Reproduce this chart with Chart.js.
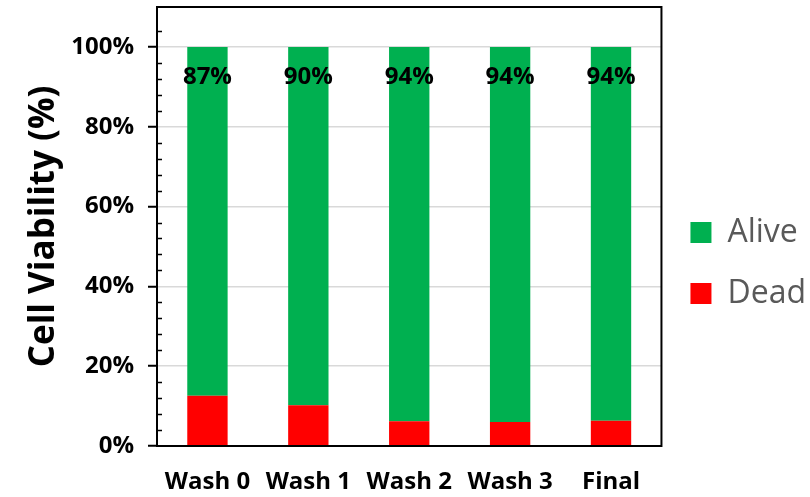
<!DOCTYPE html>
<html>
<head>
<meta charset="utf-8">
<script src="https://cdn.jsdelivr.net/npm/chart.js@4"></script>
<style>
  html, body { margin: 0; padding: 0; background: #fff; }
  #wrap { width: 810px; height: 497px; }
</style>
</head>
<body>
<div id="wrap"><canvas id="viabilityChart"></canvas></div>
<script>
// Chart data
const categories = ['Wash 0', 'Wash 1', 'Wash 2', 'Wash 3', 'Final'];
const deadValues = [12.6, 10.2, 6.2, 6.0, 6.3];
const aliveValues = [87.4, 89.8, 93.8, 94.0, 93.7];
const yMajorTicks = [0, 20, 40, 60, 80, 100];

const FONT = '"Open Sans", sans-serif';

// Frame, minor ticks and percentage labels
const decorPlugin = {
    id: 'decor',
    afterDatasetsDraw(chart) {
        const ctx = chart.ctx;
        // Percentage labels on the alive bars
        const meta = chart.getDatasetMeta(1);
        ctx.save();
        ctx.fillStyle = '#000';
        ctx.font = 'bold 24px ' + FONT;
        ctx.textAlign = 'center';
        ctx.textBaseline = 'middle';
        meta.data.forEach((bar, i) => {
            ctx.fillText(Math.round(aliveValues[i]) + '%', bar.x, bar.y + 30);
        });
        ctx.restore();
    },
    afterDraw(chart) {
        const ctx = chart.ctx;
        const area = chart.chartArea;
        const y = chart.scales.y;
        ctx.save();
        // plot frame
        ctx.strokeStyle = '#000';
        ctx.lineWidth = 2;
        ctx.strokeRect(area.left, area.top, area.right - area.left, area.bottom - area.top);
        // inward minor ticks
        ctx.lineWidth = 1.5;
        ctx.beginPath();
        y.ticks.forEach(t => {
            if (t.value % 20 !== 0 && t.value < 110) {
                const py = Math.round(y.getPixelForValue(t.value)) + 0.5;
                ctx.moveTo(area.left, py);
                ctx.lineTo(area.left + 5, py);
            }
        });
        ctx.stroke();
        ctx.restore();
    }
};

const ctx = document.getElementById('viabilityChart').getContext('2d');
new Chart(ctx, {
    type: 'bar',
    data: {
        labels: categories,
        datasets: [
            { label: 'Dead', data: deadValues, backgroundColor: '#ff0000', barPercentage: 0.4, categoryPercentage: 1 },
            { label: 'Alive', data: aliveValues, backgroundColor: '#00b050', barPercentage: 0.4, categoryPercentage: 1 }
        ]
    },
    options: {
        responsive: true,
        maintainAspectRatio: false,
        animation: false,
        layout: { padding: { top: 7, right: -6, left: 0, bottom: 0 } },
        plugins: {
            tooltip: { enabled: false },
            legend: {
                position: 'right',
                reverse: true,
                title: { display: true, text: '', padding: { top: 0, bottom: 10 }, font: { size: 10 } },
                labels: {
                    boxWidth: 21,
                    boxHeight: 21,
                    padding: 29,
                    color: '#595959',
                    font: { size: 32, family: FONT }
                }
            }
        },
        scales: {
            x: {
                stacked: true,
                grid: { display: false, drawTicks: false },
                border: { color: '#000', width: 2 },
                ticks: {
                    color: '#000',
                    padding: 22,
                    font: { size: 24, weight: 'bold', family: FONT }
                },
                afterFit: scale => { scale.height = 51; }
            },
            y: {
                stacked: true,
                min: 0,
                max: 110,
                border: { color: '#000', width: 2 },
                grid: {
                    color: c => (c.tick && c.tick.value % 20 === 0 && c.tick.value > 0 && c.tick.value <= 100) ? '#d9d9d9' : 'rgba(0,0,0,0)',
                    lineWidth: 1.5,
                    tickLength: 9,
                    tickColor: c => (c.tick && yMajorTicks.includes(c.tick.value)) ? '#000' : 'rgba(0,0,0,0)',
                    tickWidth: 2
                },
                ticks: {
                    stepSize: 4,
                    autoSkip: false,
                    color: '#000',
                    padding: 14,
                    font: { size: 24, weight: 'bold', family: FONT },
                    callback: v => yMajorTicks.includes(v) ? v + '%' : ''
                },
                title: {
                    display: true,
                    text: 'Cell Viability (%)',
                    color: '#000',
                    padding: { top: 23, bottom: 0 },
                    font: { size: 35, weight: 'bold', family: FONT }
                },
                afterFit: scale => { scale.width = 157; scale.paddingTop = 0; }
            }
        }
    },
    plugins: [decorPlugin]
});
</script>
</body>
</html>
